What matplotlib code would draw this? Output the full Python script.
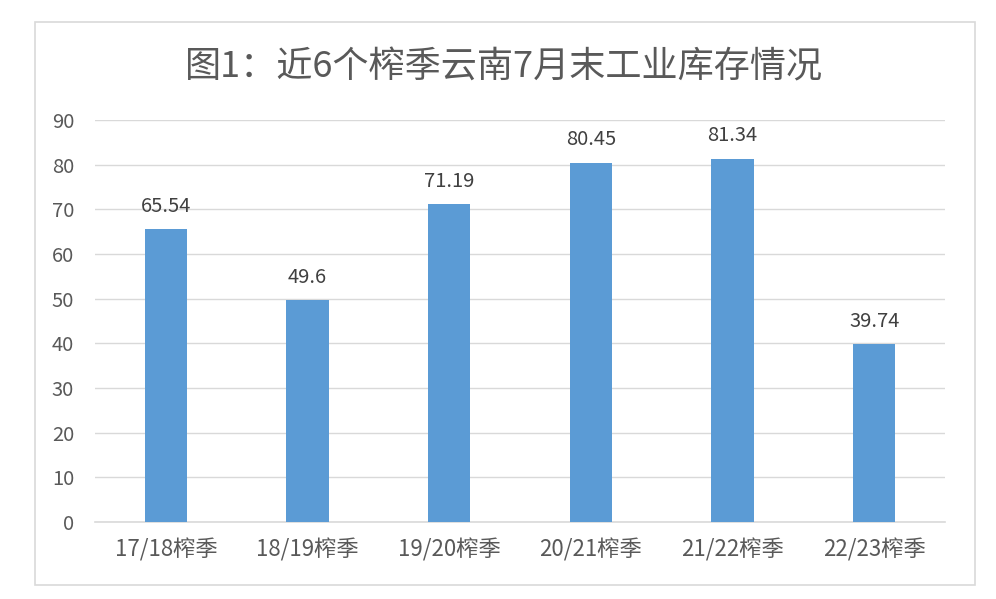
import matplotlib
matplotlib.use("Agg")
import matplotlib.pyplot as plt
from matplotlib.patches import Rectangle

plt.rcParams['font.family'] = ['Noto Sans CJK SC', 'DejaVu Sans']

categories = ["17/18榨季", "18/19榨季", "19/20榨季", "20/21榨季", "21/22榨季", "22/23榨季"]
values = [65.54, 49.6, 71.19, 80.45, 81.34, 39.74]
value_labels = ["65.54", "49.6", "71.19", "80.45", "81.34", "39.74"]
yticks = [0, 10, 20, 30, 40, 50, 60, 70, 80, 90]
title = "图1：近6个榨季云南7月末工业库存情况"

text_color = "#595959"
grid_color = "#D9D9D9"
bar_color = "#5B9BD5"

fig = plt.figure(figsize=(9.96, 5.99), dpi=100)
fig.patches.append(Rectangle((35/996, 1-585/599), 940/996, 563/599, transform=fig.transFigure,
                             fill=False, edgecolor=grid_color, linewidth=1.2))

ax = fig.add_axes([95/996, 1-522/599, 850/996, 402/599])
x = list(range(len(categories)))
bars = ax.bar(x, values, width=0.30, color=bar_color, zorder=3)
ax.set_xlim(-0.5, len(categories)-0.5)
ax.set_ylim(0, 90)
ax.set_yticks(yticks)
ax.set_yticklabels([str(t) for t in yticks])
ax.set_xticks(x)
ax.set_xticklabels(categories)
ax.grid(axis='y', color=grid_color, linewidth=1, zorder=0)
for s in ['top', 'right', 'left']:
    ax.spines[s].set_visible(False)
ax.spines['bottom'].set_color(grid_color)
ax.spines['bottom'].set_linewidth(1.2)
ax.tick_params(axis='both', length=0, colors=text_color)
ax.tick_params(axis='y', labelsize=14.5, pad=15)
ax.tick_params(axis='x', labelsize=16, pad=12)

for xi, v, lab in zip(x, values, value_labels):
    ax.annotate(lab, (xi, v), xytext=(0, 9), textcoords='offset points',
                ha='center', va='bottom', fontsize=14.5, color="#404040")

fig.text(504/996, 1-67/599, title, ha='center', va='center', fontsize=26, color=text_color)

fig.savefig("out.png", dpi=100, facecolor='white')
